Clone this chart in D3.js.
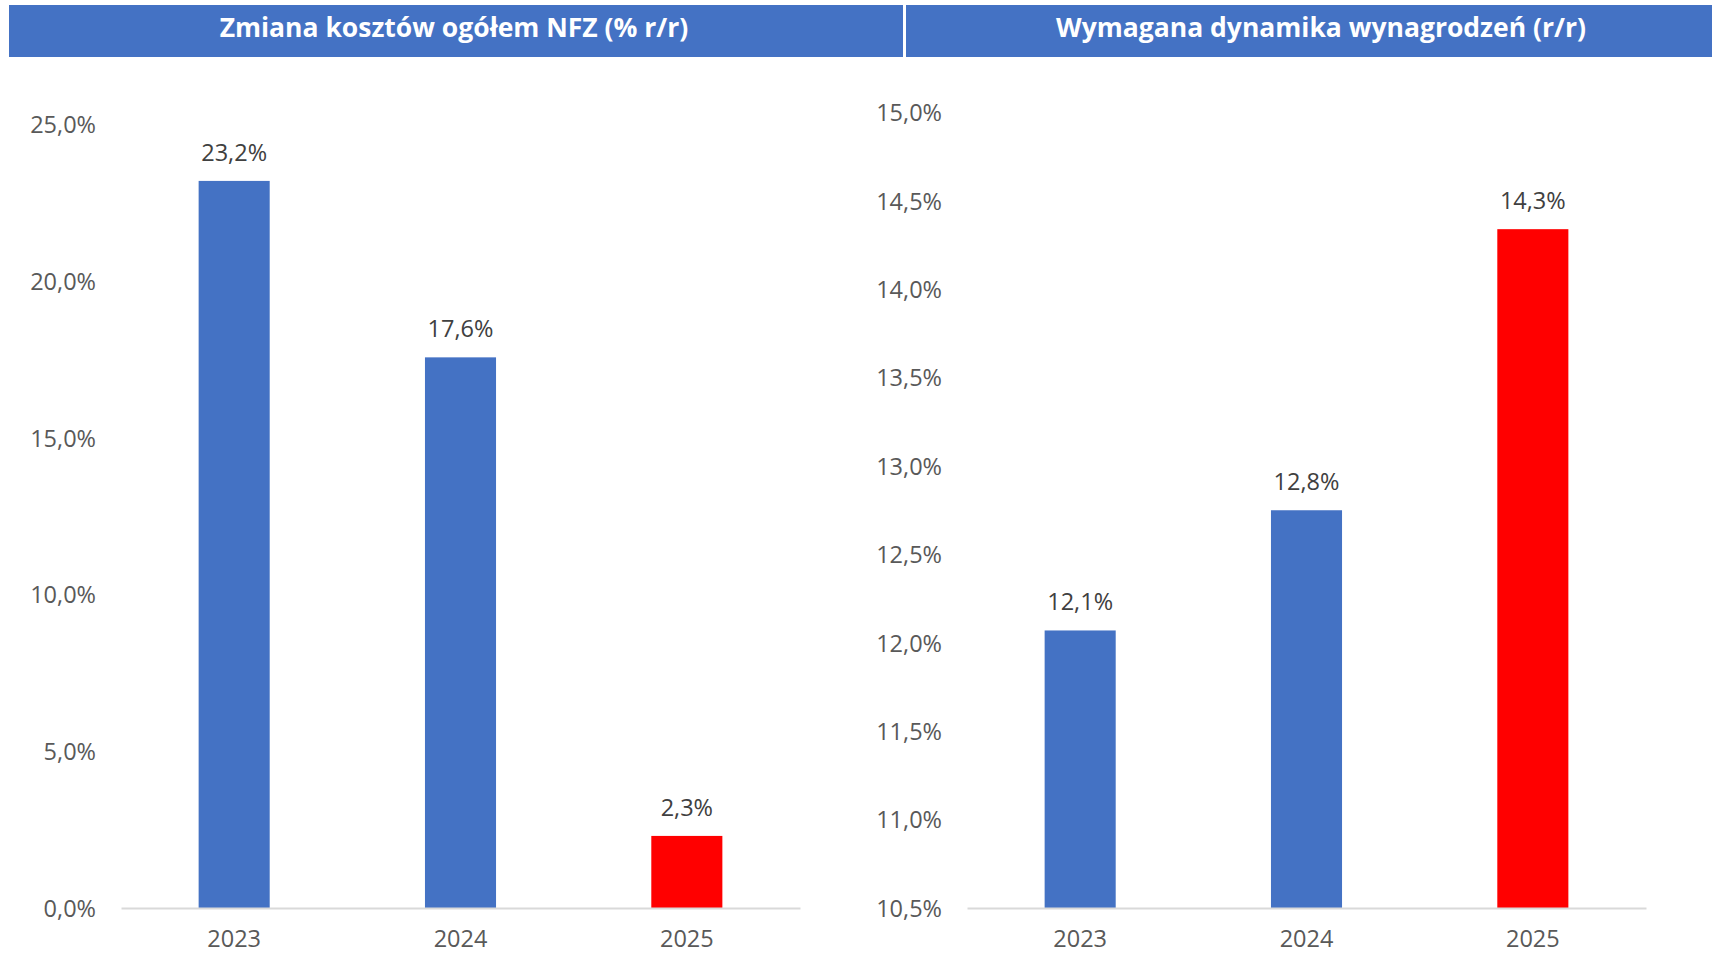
<!DOCTYPE html>
<html><head><meta charset="utf-8">
<script src="https://cdn.jsdelivr.net/npm/d3@7"></script>
<style>body{margin:0;background:#fff}svg{display:block}</style>
</head><body>
<script>
const years = ["2023", "2024", "2025"];
const leftTitle = "Zmiana kosztów ogółem NFZ (% r/r)";
const leftValues = [23.2, 17.57, 2.3];
const leftTicks = [0, 5, 10, 15, 20, 25];
const rightTitle = "Wymagana dynamika wynagrodzeń (r/r)";
const rightValues = [12.07, 12.75, 14.34];
const rightTicks = [10.5, 11, 11.5, 12, 12.5, 13, 13.5, 14, 14.5, 15];
const barColors = ["#4472C4", "#4472C4", "#FF0000"];

const W = 1712, H = 955;
const svg = d3.select("body").append("svg").attr("width", W).attr("height", H);
svg.append("rect").attr("width", W).attr("height", H).attr("fill", "#fff");
const FONT = "'Open Sans', sans-serif";
const fmt = v => d3.format(".1f")(v).replace(".", ",") + "%";

function panel(cfg) {
  svg.append("rect").attr("x", cfg.bx0).attr("y", 5).attr("width", cfg.bx1 - cfg.bx0).attr("height", 52).attr("fill", "#4472C4");
  svg.append("text").attr("x", cfg.tx).attr("y", 27).attr("text-anchor", "middle").attr("dominant-baseline", "central")
    .attr("font-family", FONT).attr("font-weight", "bold").attr("font-size", 26.5).attr("fill", "#fff").text(cfg.title);

  const x = d3.scaleBand().domain(years).range([cfg.x0, cfg.x1]).paddingInner(0.686).paddingOuter(0.343);
  const y = d3.scaleLinear().domain(cfg.domain).range([908, cfg.yTop]);

  const ya = svg.append("g").attr("transform", `translate(${cfg.labelX},0)`)
    .call(d3.axisLeft(y).tickValues(cfg.ticks).tickSize(0).tickPadding(0).tickFormat(fmt));
  ya.select(".domain").remove();
  ya.selectAll("text").attr("font-family", FONT).attr("font-size", 23.5).attr("fill", "#595959").attr("dy", "0.35em");

  svg.append("g").selectAll("rect").data(cfg.values).join("rect")
    .attr("x", (d, i) => x(years[i])).attr("width", x.bandwidth())
    .attr("y", d => y(d)).attr("height", d => y(cfg.domain[0]) - y(d))
    .attr("fill", (d, i) => barColors[i]);

  const xa = svg.append("g").attr("transform", `translate(0,${y(cfg.domain[0])})`)
    .call(d3.axisBottom(x).tickSize(0).tickPadding(22.5));
  xa.select(".domain").attr("stroke", "#D9D9D9").attr("stroke-width", 2.2);
  xa.selectAll("text").attr("font-family", FONT).attr("font-size", 23.5).attr("fill", "#595959");

  svg.append("g").selectAll("text").data(cfg.values).join("text")
    .attr("x", (d, i) => x(years[i]) + x.bandwidth() / 2).attr("y", d => y(d) - 29)
    .attr("text-anchor", "middle").attr("dominant-baseline", "central")
    .attr("font-family", FONT).attr("font-size", 23.5).attr("fill", "#404040").text(d => fmt(d));
}

panel({bx0: 9, bx1: 903, tx: 454, title: leftTitle, x0: 121, x1: 800, labelX: 96,
  domain: [0, 25], yTop: 124.5, ticks: leftTicks, values: leftValues});
panel({bx0: 906, bx1: 1712, tx: 1321, title: rightTitle, x0: 967, x1: 1646, labelX: 942,
  domain: [10.5, 15], yTop: 112.5, ticks: rightTicks, values: rightValues});
</script>
</body></html>
